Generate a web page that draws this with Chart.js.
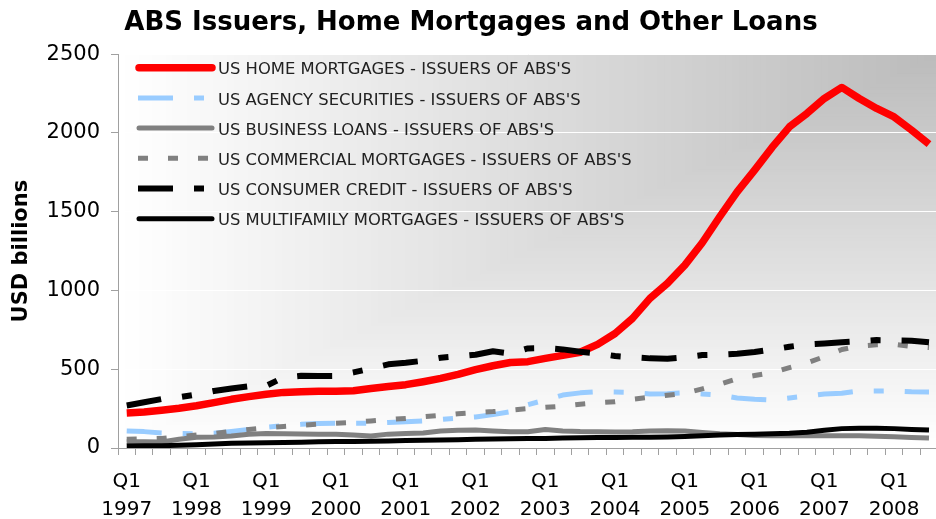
<!DOCTYPE html>
<html>
<head>
<meta charset="utf-8">
<script src="https://cdn.jsdelivr.net/npm/chart.js@4"></script>
<style>
html,body{margin:0;padding:0;overflow:hidden;background:#fff;width:936px;height:519px}
#wrap{width:942px;height:519px}
</style>
</head>
<body>
<div id="wrap"><canvas id="c" width="942" height="519"></canvas></div>
<script>
const categories = [
  'Q1 1997','Q2 1997','Q3 1997','Q4 1997',
  'Q1 1998','Q2 1998','Q3 1998','Q4 1998',
  'Q1 1999','Q2 1999','Q3 1999','Q4 1999',
  'Q1 2000','Q2 2000','Q3 2000','Q4 2000',
  'Q1 2001','Q2 2001','Q3 2001','Q4 2001',
  'Q1 2002','Q2 2002','Q3 2002','Q4 2002',
  'Q1 2003','Q2 2003','Q3 2003','Q4 2003',
  'Q1 2004','Q2 2004','Q3 2004','Q4 2004',
  'Q1 2005','Q2 2005','Q3 2005','Q4 2005',
  'Q1 2006','Q2 2006','Q3 2006','Q4 2006',
  'Q1 2007','Q2 2007','Q3 2007','Q4 2007',
  'Q1 2008','Q2 2008','Q3 2008'
];

const homeMortgages = [222,228,239,252, 268,288,309,326, 341,353,357,360, 360,364,378,390,
  402,421,442,468, 497,522,543,548, 569,588,608,658, 727,823,950,1045,
  1161,1303,1468,1626, 1764,1908,2039,2124, 2219,2289,2219,2156, 2102,2018,1929];

const agencySecurities = [108,104,95,92, 90,93,105,118, 132,142,150,155, 157,157,157,162,
  166,171,182,190, 197,212,231,275, 305,336,350,357, 355,352,343,345,
  350,343,336,318, 310,305,318,330, 343,347,362,362, 362,357,355];

const businessLoans = [40,40,38,55, 68,70,76,87, 92,90,89,88, 87,82,76,88,
  92,95,108,113, 114,108,103,103, 117,108,104,103, 102,103,108,110,
  108,98,90,86, 80,78,77,77, 78,78,77,75, 72,67,63];

const commercialMortgages = [55,58,61,72, 82,92,106,118, 128,137,145,151, 157,163,172,180,
  188,198,207,218, 225,231,240,250, 258,266,278,288, 294,310,322,335,
  347,375,405,440, 460,478,510,540, 580,625,648,655, 658,645,638];

const consumerCredit = [270,290,311,322, 340,362,378,392, 395,448,458,457, 458,480,505,531,
  541,554,573,582, 592,614,600,632, 634,626,611,600, 584,576,569,567,
  576,590,592,598, 609,625,643,658, 664,672,678,685, 683,681,672];

const multifamilyMortgages = [13,14,15,17, 20,25,30,31, 33,35,37,40, 41,42,43,45,
  47,49,51,53, 55,57,58,60, 61,63,65,66, 67,68,68,70,
  73,77,82,85, 88,90,93,100, 112,123,125,125, 123,118,114];

const seriesNames = [
  "US HOME MORTGAGES - ISSUERS OF ABS'S",
  "US AGENCY SECURITIES - ISSUERS OF ABS'S",
  "US BUSINESS LOANS - ISSUERS OF ABS'S",
  "US COMMERCIAL MORTGAGES - ISSUERS OF ABS'S",
  "US CONSUMER CREDIT - ISSUERS OF ABS'S",
  "US MULTIFAMILY MORTGAGES - ISSUERS OF ABS'S"
];

const yTicks = [0, 500, 1000, 1500, 2000, 2500];

const FONT = '"DejaVu Sans", Verdana, sans-serif';

const bgPlugin = {
  id: 'cornerGradient',
  beforeDraw(chart) {
    const {ctx, chartArea: a} = chart;
    const W = a.right - a.left, H = a.bottom - a.top;
    const N = 120;
    ctx.save();
    for (let k = N; k >= 1; k--) {
      const s = k / N;
      const c = Math.round(187 + (255 - 187) * s);
      ctx.fillStyle = `rgb(${c},${c},${c})`;
      ctx.fillRect(a.right - s * W, a.top, s * W, s * H);
    }
    ctx.restore();
  }
};

const legendPlugin = {
  id: 'insideLegend',
  afterDatasetsDraw(chart) {
    const {ctx, chartArea: a} = chart;
    const x0 = a.left + 20, lineW = 74, textX = a.left + 100, y0 = a.top + 16, rowH = 30.2;
    chart.data.datasets.forEach((ds, i) => {
      const y = y0 + i * rowH;
      ctx.save();
      ctx.strokeStyle = ds.borderColor;
      ctx.lineWidth = ds.borderWidth;
      const dashed = ds.borderDash && ds.borderDash.length;
      ctx.setLineDash(dashed ? ds.borderDash : []);
      ctx.lineCap = dashed ? 'butt' : 'round';
      ctx.beginPath();
      ctx.moveTo(dashed ? x0 : x0 + 1, y - 2.5);
      ctx.lineTo(x0 + lineW, y - 2.5);
      ctx.stroke();
      ctx.setLineDash([]);
      ctx.fillStyle = '#222';
      ctx.font = '16.4px ' + FONT;
      ctx.textBaseline = 'middle';
      ctx.textAlign = 'left';
      ctx.fillText(ds.label, textX, y);
      ctx.restore();
    });
  }
};

const styles = [
  {color: '#ff0000', width: 7.5, dash: []},
  {color: '#99ccff', width: 5, dash: [35, 21, 10, 21]},
  {color: '#808080', width: 5, dash: []},
  {color: '#808080', width: 5, dash: [10, 20]},
  {color: '#000000', width: 6, dash: [35, 21, 10, 21]},
  {color: '#000000', width: 5, dash: []}
];
const seriesData = [homeMortgages, agencySecurities, businessLoans, commercialMortgages, consumerCredit, multifamilyMortgages];

const datasets = seriesData.map((d, i) => ({
  label: seriesNames[i],
  data: d,
  borderColor: styles[i].color,
  backgroundColor: styles[i].color,
  borderWidth: styles[i].width,
  borderDash: styles[i].dash,
  borderCapStyle: 'butt',
  borderJoinStyle: 'round',
  pointRadius: 0,
  pointHoverRadius: 0,
  tension: 0,
  fill: false,
  order: seriesData.length - i
}));

new Chart(document.getElementById('c'), {
  type: 'line',
  data: {labels: categories, datasets},
  plugins: [bgPlugin, legendPlugin],
  options: {
    responsive: false,
    animation: false,
    devicePixelRatio: 1,
    layout: {padding: 0},
    plugins: {
      legend: {display: false},
      tooltip: {enabled: false},
      title: {
        display: true,
        text: 'ABS Issuers, Home Mortgages and Other Loans',
        color: '#000',
        font: {family: FONT, size: 26, weight: 'bold', lineHeight: 1.2},
        padding: {top: 8, bottom: 15}
      }
    },
    scales: {
      x: {
        type: 'category',
        offset: true,
        afterFit(s) { s.height = 71; },
        grid: {offset: true, drawOnChartArea: false, tickLength: 7, color: '#a0a0a0', tickColor: '#a0a0a0'},
        border: {display: true, color: '#a0a0a0', width: 1},
        ticks: {
          autoSkip: false, maxRotation: 0, minRotation: 0, padding: 13,
          color: '#000',
          font: {family: FONT, size: 20, lineHeight: 1.4},
          callback(value) {
            const lab = this.getLabelForValue(value);
            return lab.startsWith('Q1') ? lab.split(' ') : '';
          }
        }
      },
      y: {
        min: yTicks[0],
        max: yTicks[yTicks.length - 1],
        afterFit(s) { s.width = 118; },
        afterBuildTicks(s) { s.ticks = yTicks.map(v => ({value: v})); },
        grid: {color: '#ffffff', lineWidth: 1, tickLength: 7, tickColor: '#a0a0a0', drawTicks: true},
        border: {display: true, color: '#a0a0a0', width: 1},
        ticks: {
          padding: 11, color: '#000',
          font: {family: FONT, size: 21},
          callback(value) { return String(value); }
        },
        title: {
          display: true, text: 'USD billions', color: '#000',
          font: {family: FONT, size: 21, weight: 'bold', lineHeight: 1.2},
          padding: {top: 9, bottom: 0}
        }
      }
    }
  }
});
</script>
</body>
</html>
